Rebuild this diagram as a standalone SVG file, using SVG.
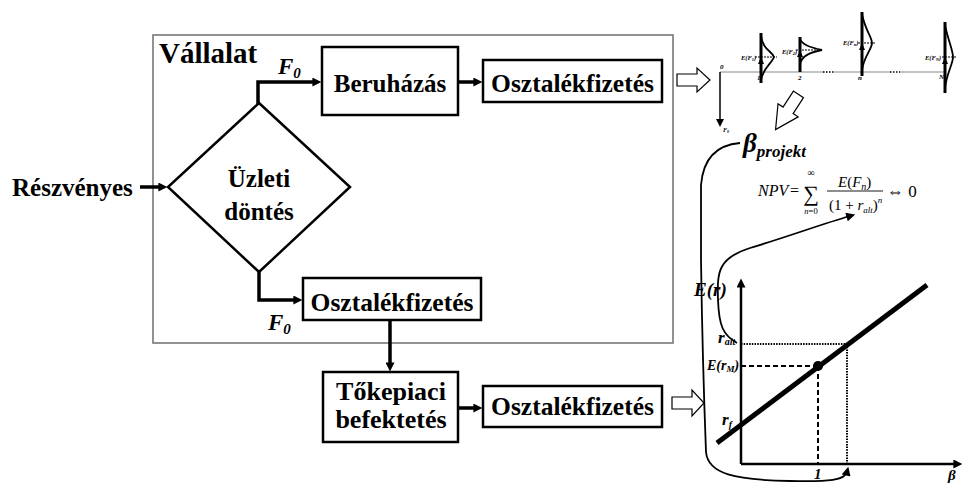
<svg xmlns="http://www.w3.org/2000/svg" width="966" height="483" viewBox="0 0 966 483">
<style>
.box{fill:#fff;stroke:#000;stroke-width:2.5}
.t{font-family:"Liberation Serif","Times New Roman",serif;font-weight:bold;fill:#000}
.bi{font-family:"Liberation Serif","Times New Roman",serif;font-style:italic;font-weight:bold;fill:#000}
.bs{font-family:"Liberation Serif","Times New Roman",serif;font-style:italic;font-weight:bold;fill:#000}
.it{font-family:"Liberation Serif","Times New Roman",serif;font-style:italic;fill:#000}
.rm{font-family:"Liberation Serif","Times New Roman",serif;fill:#000}
.con{fill:none;stroke:#000;stroke-width:3.5}
.hollow{fill:#fff;stroke:#000;stroke-width:1.2;stroke-linejoin:miter}
.thin{fill:none;stroke:#000;stroke-width:1.8}
</style>
<defs>
<marker id="ah" viewBox="0 0 10 10" refX="4" refY="5" markerWidth="10" markerHeight="9" markerUnits="userSpaceOnUse" orient="auto">
<path d="M0,0 L10,5 L0,10 z" fill="#000"/>
</marker>
<marker id="ahs" viewBox="0 0 10 10" refX="4" refY="5" markerWidth="11" markerHeight="9" markerUnits="userSpaceOnUse" orient="auto">
<path d="M0,0 L10,5 L0,10 z" fill="#000"/>
</marker>
</defs>

<g id="vallalat">
<rect x="153" y="35" width="520" height="308" fill="none" stroke="#777" stroke-width="1.6"/>
<text class="t" x="159" y="63" font-size="29">Vállalat</text>
</g>

<g id="reszvenyes">
<text class="t" x="12" y="196" font-size="25">Részvényes</text>
</g>

<g id="dontes">
<polygon class="box" points="259,103 350,187 259,272 168,187"/>
<text class="t" x="259" y="187" font-size="25" text-anchor="middle">Üzleti</text>
<text class="t" x="259" y="220" font-size="25" text-anchor="middle">döntés</text>
</g>

<g id="beruhazas">
<rect class="box" x="322" y="47" width="136" height="68"/>
<text class="t" x="390" y="92" font-size="25" text-anchor="middle">Beruházás</text>
</g>

<g id="osztalek1">
<rect class="box" x="483" y="60" width="179" height="42"/>
<text class="t" x="572.5" y="92" font-size="25.5" text-anchor="middle">Osztalékfizetés</text>
</g>

<g id="osztalek2">
<rect class="box" x="303" y="278" width="178" height="42"/>
<text class="t" x="392" y="311" font-size="25.5" text-anchor="middle">Osztalékfizetés</text>
</g>

<g id="tokepiaci">
<rect class="box" x="323" y="372" width="135" height="70"/>
<text class="t" x="391" y="400" font-size="26" text-anchor="middle">Tőkepiaci</text>
<text class="t" x="391" y="428" font-size="26" text-anchor="middle">befektetés</text>
</g>

<g id="osztalek3">
<rect class="box" x="483" y="386" width="179" height="41"/>
<text class="t" x="572.5" y="415" font-size="25.5" text-anchor="middle">Osztalékfizetés</text>
</g>

<g id="connectors">
<line class="con" x1="140" y1="187" x2="162" y2="187" marker-end="url(#ah)"/>
<polyline class="con" points="258,104 258,82 316,82" marker-end="url(#ah)"/>
<line class="con" x1="458" y1="82" x2="477" y2="82" marker-end="url(#ah)"/>
<polyline class="con" points="259,271 259,300 297,300" marker-end="url(#ah)"/>
<line class="con" x1="390" y1="320" x2="390" y2="366" marker-end="url(#ah)"/>
<line class="con" x1="458" y1="408" x2="477" y2="408" marker-end="url(#ah)"/>
<polygon class="hollow" points="677,74 697,74 697,68 710,80 697,92 697,86 677,86"/>
<polygon class="hollow" points="672,397 692,397 692,390 704,403 692,416 692,409 672,409"/>
<polygon class="hollow" transform="translate(787,112) rotate(123)" points="-21,-6 -2,-6 -2,-12 21,0 -2,12 -2,6 -21,6"/>
<path class="thin" d="M740,143 C716,145 703,160 701,185 L701,260 C702,330 704,400 706,452 C708,474 735,480 790,481 C830,482 845,480 847,472" marker-end="url(#ahs)"/>
<path class="thin" d="M737,343 C723,335 719,326 718,300 C717,272 718,258 750,248 C790,236 822,224 850,216" marker-end="url(#ahs)"/>
</g>

<g id="F0-labels">
<text class="bi" x="278" y="74" font-size="23">F<tspan font-size="15" dy="4">0</tspan></text>
<text class="bi" x="268" y="330" font-size="23">F<tspan font-size="15" dy="4">0</tspan></text>
</g>

<g id="timeline">
<line x1="720" y1="72" x2="823" y2="72" stroke="#888" stroke-width="1"/>
<line x1="823" y1="72" x2="834" y2="72" stroke="#000" stroke-width="1.5" stroke-dasharray="1.5,1.5"/>
<line x1="834" y1="72" x2="890" y2="72" stroke="#888" stroke-width="1"/>
<line x1="890" y1="72" x2="900" y2="72" stroke="#000" stroke-width="1.5" stroke-dasharray="1.5,1.5"/>
<line x1="900" y1="72" x2="945" y2="72" stroke="#888" stroke-width="1"/>
<line x1="720" y1="72" x2="720" y2="120" stroke="#000" stroke-width="1.5"/>
<polygon points="716,119 724,119 720,127" fill="#000"/>
<text class="bs" x="720" y="69" font-size="7">0</text>
<text class="bs" x="723" y="132" font-size="6">F<tspan font-size="4" dy="1">0</tspan></text>

<line x1="761" y1="33" x2="761" y2="83" stroke="#000" stroke-width="3"/>
<path class="thin" d="M761,36 C763,50 772,51 774,57 C772,63 763,68 761,80"/>
<line x1="755" y1="57" x2="777" y2="57" stroke="#000" stroke-width="1.2" stroke-dasharray="2,1"/>
<polygon points="758,64 764,64 761,57" fill="#000"/>
<text class="bs" x="741" y="60" font-size="6.5">E(F<tspan font-size="4.5" dy="1">1</tspan><tspan dy="-1">)</tspan></text>
<text class="bs" x="757" y="80" font-size="7">1</text>

<line x1="800" y1="37" x2="800" y2="72" stroke="#000" stroke-width="3"/>
<path class="thin" d="M800,39 C802,45 812,48 822,50 C812,52 802,55 800,64"/>
<line x1="796" y1="50" x2="816" y2="50" stroke="#000" stroke-width="1.2" stroke-dasharray="2,1"/>
<polygon points="797,57 803,57 800,50" fill="#000"/>
<text class="bs" x="782" y="54" font-size="6.5">E(F<tspan font-size="4.5" dy="1">2</tspan><tspan dy="-1">)</tspan></text>
<text class="bs" x="798" y="80" font-size="7">2</text>

<line x1="862" y1="12" x2="862" y2="76" stroke="#000" stroke-width="3"/>
<path class="thin" d="M862,14 C865,30 872,37 872,43 C872,49 864,56 862,70"/>
<line x1="858" y1="43" x2="875" y2="43" stroke="#000" stroke-width="1.2" stroke-dasharray="2,1"/>
<polygon points="859,50 865,50 862,43" fill="#000"/>
<text class="bs" x="843" y="45" font-size="6.5">E(F<tspan font-size="4.5" dy="1">n</tspan><tspan dy="-1">)</tspan></text>
<text class="bs" x="858" y="80" font-size="7">n</text>

<line x1="945" y1="22" x2="945" y2="93" stroke="#000" stroke-width="3"/>
<path class="thin" d="M945,25 C948,40 953,50 953,57 C953,64 947,72 945,88"/>
<line x1="942" y1="57" x2="956" y2="57" stroke="#000" stroke-width="1.2" stroke-dasharray="2,1"/>
<polygon points="942,64 948,64 945,57" fill="#000"/>
<text class="bs" x="925" y="60" font-size="6.5">E(F<tspan font-size="4.5" dy="1">N</tspan><tspan dy="-1">)</tspan></text>
<text class="bs" x="939" y="79" font-size="7">N</text>
</g>

<g id="beta-projekt">
<text class="bi" x="743" y="152" font-size="27">β<tspan font-size="17" dy="5">projekt</tspan></text>
</g>

<g id="npv">
<text class="it" x="758" y="196" font-size="16">NPV</text>
<text class="rm" x="790" y="196" font-size="16">=</text>
<text class="rm" x="811" y="201" font-size="22" text-anchor="middle">∑</text>
<text class="rm" x="811" y="176" font-size="10" text-anchor="middle">∞</text>
<text class="it" x="811" y="214" font-size="8.5" text-anchor="middle">n<tspan class="rm" font-style="normal">=0</tspan></text>
<text class="it" x="838" y="187" font-size="15">E<tspan class="rm" font-style="normal">(</tspan>F<tspan font-size="10" dy="3">n</tspan><tspan class="rm" font-style="normal" dy="-3">)</tspan></text>
<line x1="827" y1="191" x2="883" y2="191" stroke="#000" stroke-width="0.9"/>
<text class="rm" x="829" y="210" font-size="15">(1 + <tspan class="it">r</tspan><tspan class="it" font-size="9" dy="3">alt</tspan><tspan dy="-3">)</tspan><tspan class="it" font-size="9" dy="-7">n</tspan></text>
<text class="rm" x="887" y="197" font-size="17">⇔ 0</text>
</g>

<g id="sml-chart">
<line x1="741" y1="464" x2="741" y2="284" stroke="#000" stroke-width="2.5" marker-end="url(#ahs)"/>
<line x1="741" y1="464" x2="957" y2="464" stroke="#000" stroke-width="2.5" marker-end="url(#ahs)"/>
<line x1="717" y1="443" x2="927" y2="285" stroke="#000" stroke-width="5"/>
<line x1="741" y1="366" x2="818" y2="366" stroke="#000" stroke-width="2" stroke-dasharray="5,3"/>
<line x1="818" y1="366" x2="818" y2="464" stroke="#000" stroke-width="2" stroke-dasharray="5,3"/>
<line x1="741" y1="344" x2="847" y2="344" stroke="#000" stroke-width="2" stroke-dasharray="1.5,1.2"/>
<line x1="847" y1="344" x2="847" y2="464" stroke="#000" stroke-width="2" stroke-dasharray="1.5,1.2"/>
<circle cx="818" cy="366" r="5" fill="#000"/>
<text class="bi" x="694" y="296" font-size="19">E(r)</text>
<text class="bi" x="718" y="343" font-size="17">r<tspan font-size="10" dy="2">alt</tspan></text>
<text class="bi" x="707" y="370" font-size="14">E(r<tspan font-size="9" dy="2">M</tspan><tspan dy="-2">)</tspan></text>
<text class="bi" x="722" y="425" font-size="17">r<tspan font-size="10" dy="3">f</tspan></text>
<text class="bi" x="814" y="479" font-size="15">1</text>
<text class="bi" x="948" y="480" font-size="15">β</text>
</g>
</svg>
